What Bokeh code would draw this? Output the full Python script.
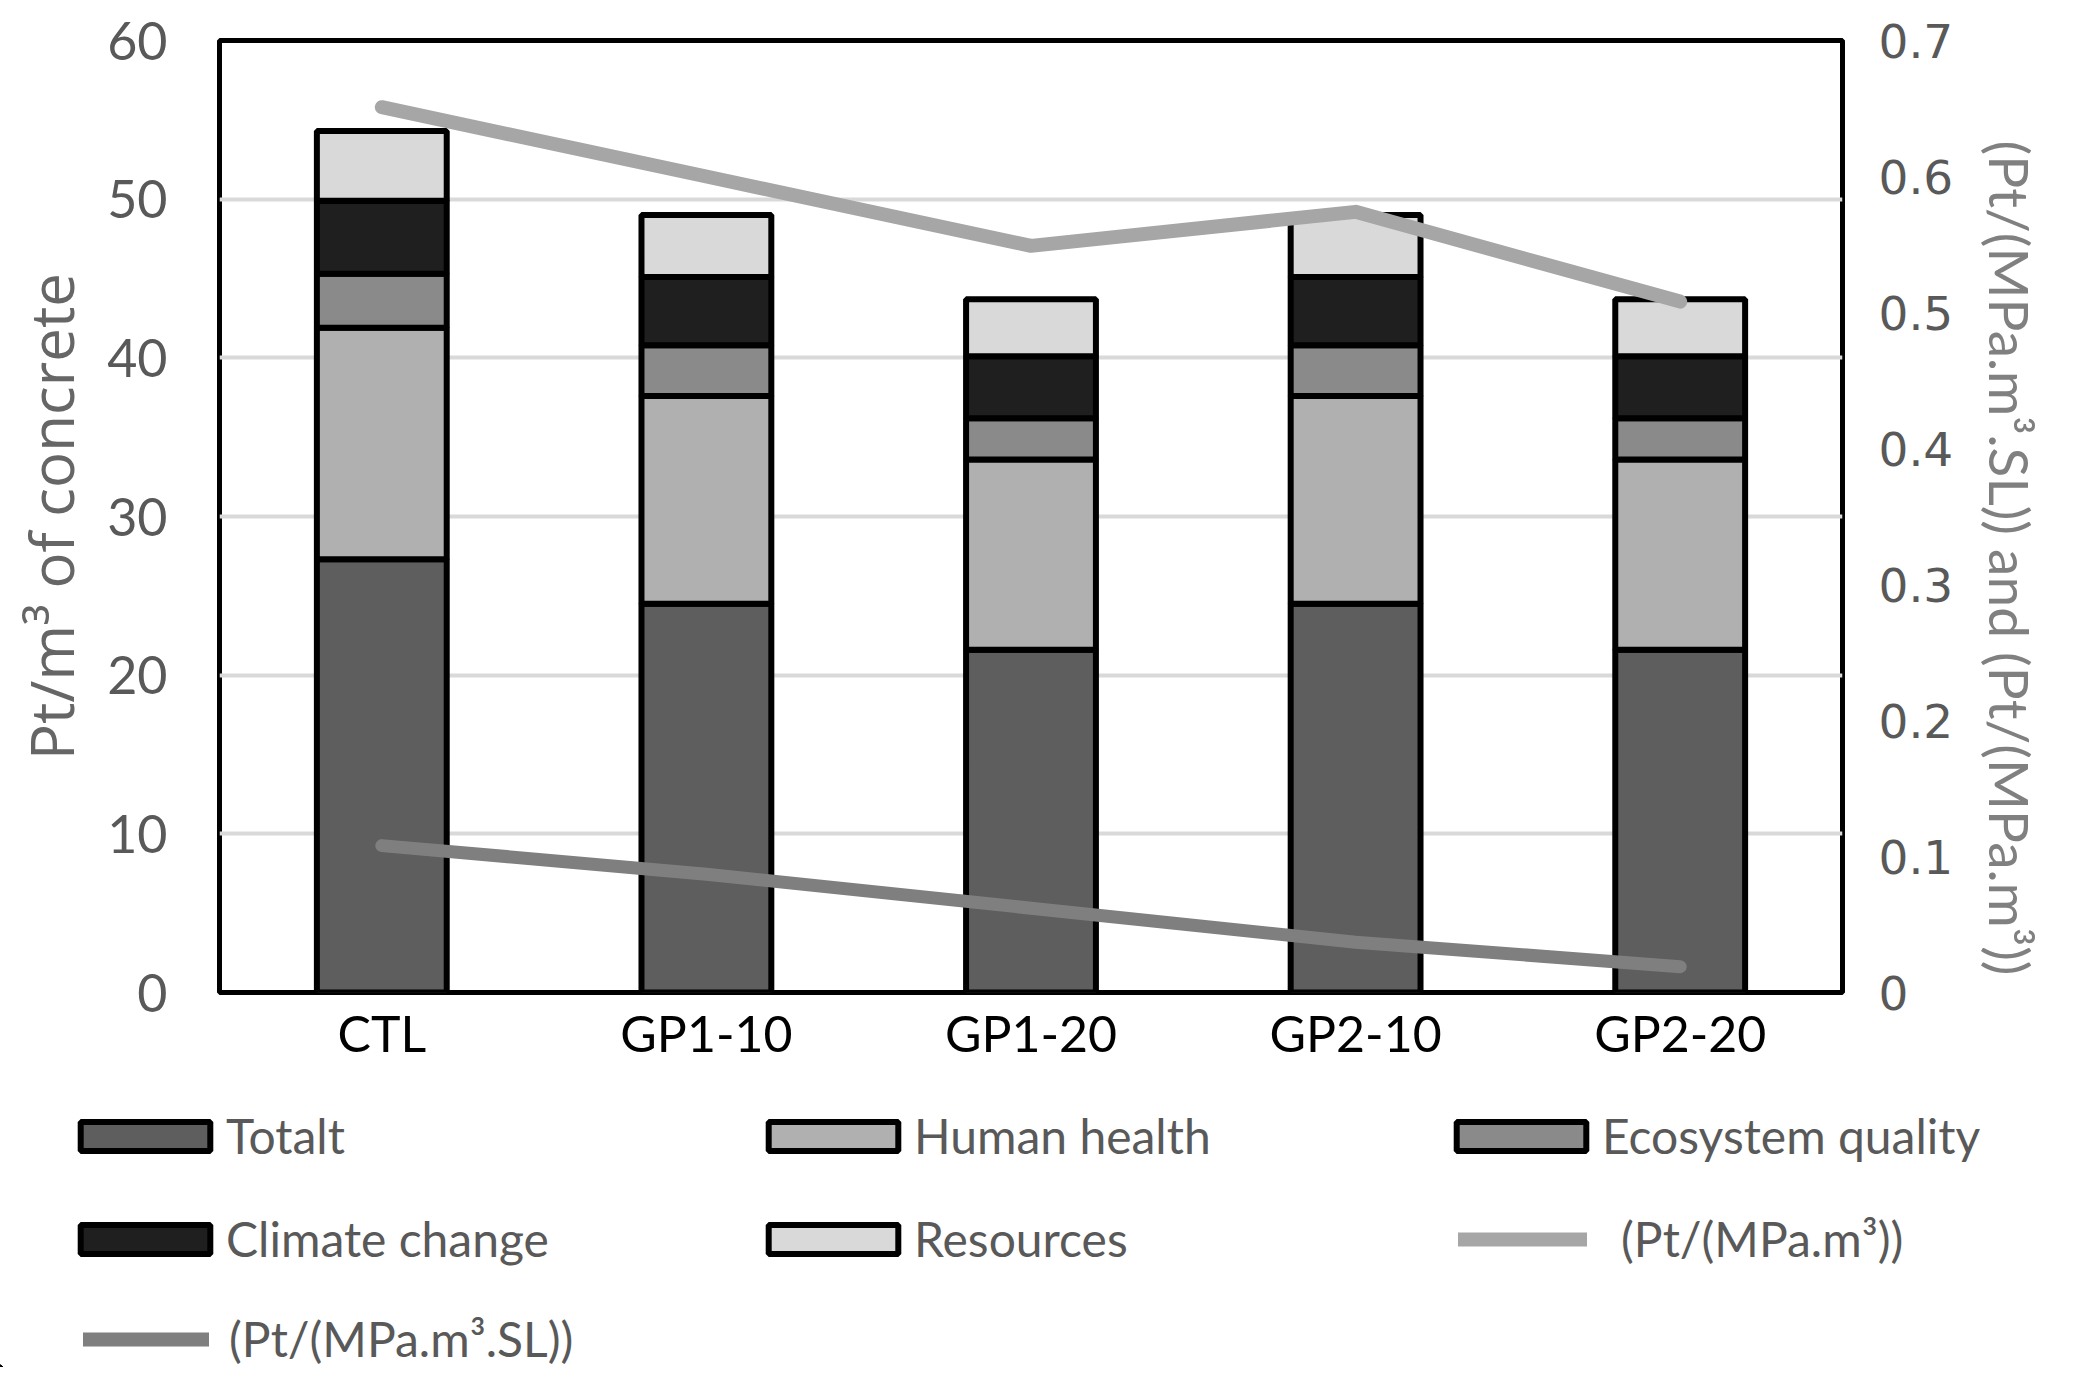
from bokeh.plotting import figure
from bokeh.models import (ColumnDataSource, FactorRange, Range1d, LinearAxis, FixedTicker,
                          CustomJSTickFormatter, Legend, LegendItem, Title)
from bokeh.embed import file_html
from bokeh.resources import INLINE

# ---------------- data ----------------
categories = ["CTL", "GP1-10", "GP1-20", "GP2-10", "GP2-20"]
totalt = [27.3, 24.5, 21.6, 24.5, 21.6]
human_health = [14.6, 13.1, 12.0, 13.1, 12.0]
ecosystem_quality = [3.4, 3.2, 2.6, 3.2, 2.6]
climate_change = [4.6, 4.3, 3.9, 4.3, 3.9]
resources = [4.4, 3.9, 3.6, 3.9, 3.6]
pt_mpa_m3 = [0.651, 0.600, 0.549, 0.574, 0.508]
pt_mpa_m3_sl = [0.108, 0.087, 0.062, 0.037, 0.019]

series_names = ["Totalt", "Human health", "Ecosystem quality", "Climate change", "Resources"]
line_names = ["(Pt/(MPa.m\u00b3))", "(Pt/(MPa.m\u00b3.SL))"]
left_ticks = [0, 10, 20, 30, 40, 50, 60]
right_ticks = [0, 0.1, 0.2, 0.3, 0.4, 0.5, 0.6, 0.7]
left_label = "Pt/m\u00b3 of concrete"
right_label = "(Pt/(MPa.m\u00b3.SL)) and (Pt/(MPa.m\u00b3))"

# ---------------- styles ----------------
bar_colors = ["#5e5e5e", "#b0b0b0", "#8a8a8a", "#1f1f1f", "#d9d9d9"]
line_colors = ["#a6a6a6", "#7f7f7f"]
keys = ["totalt", "human_health", "ecosystem_quality", "climate_change", "resources"]

source = ColumnDataSource(dict(cat=categories, totalt=totalt, human_health=human_health,
                               ecosystem_quality=ecosystem_quality,
                               climate_change=climate_change, resources=resources))

W = 2072
HP = 1070          # chart part
HQ = 1367 - HP     # legend part
FL, FT, FR, FB = 219, 40, 1842, 992   # frame edges

p = figure(width=W, height=HP, x_range=FactorRange(*categories), y_range=Range1d(0, 60),
           output_backend="svg", toolbar_location=None,
           min_border_left=FL, min_border_right=W - FR, min_border_top=FT,
           min_border_bottom=HP - FB)
p.extra_y_ranges = {"right": Range1d(0, 0.7)}
p.background_fill_color = "white"
p.border_fill_color = "white"
p.outline_line_color = "black"
p.outline_line_width = 5

bars = p.vbar_stack(keys, x="cat", width=0.4, source=source,
                    fill_color=bar_colors, line_color="black", line_width=6)

l1 = p.line(x=categories, y=pt_mpa_m3, y_range_name="right", line_color=line_colors[0],
            line_width=14, line_cap="round", line_join="round")
l2 = p.line(x=categories, y=pt_mpa_m3_sl, y_range_name="right", line_color=line_colors[1],
            line_width=13, line_cap="round", line_join="round")

# grid
p.xgrid.grid_line_color = None
p.ygrid.ticker = FixedTicker(ticks=left_ticks)
p.ygrid.grid_line_color = "#d9d9d9"
p.ygrid.grid_line_width = 4

# left axis
ya = p.yaxis[0]
ya.ticker = FixedTicker(ticks=left_ticks)
ya.axis_label = left_label
ya.axis_label_text_font = "Open Sans"
ya.axis_label_text_font_size = "60px"
ya.axis_label_text_font_style = "normal"
ya.axis_label_text_color = "#666666"
ya.axis_label_standoff = 12
ya.major_label_text_font = "Lato"
ya.major_label_text_font_size = "52px"
ya.major_label_text_color = "#595959"
ya.major_label_standoff = 46

# right axis (its title is a side-panel Title so it can sit lower, as in the original)
ra = LinearAxis(y_range_name="right", ticker=FixedTicker(ticks=right_ticks),
                formatter=CustomJSTickFormatter(code="return tick == 0 ? '0' : tick.toFixed(1);"))
ra.major_label_text_font = "DejaVu Sans"
ra.major_label_text_font_size = "47px"
ra.major_label_text_color = "#595959"
ra.major_label_standoff = 30
p.add_layout(ra, "right")

rt = Title(text=right_label, align="left", offset=100, standoff=40,
           text_font="Lato", text_font_size="55px", text_font_style="normal",
           text_color="#808080")
p.add_layout(rt, "right")

# x axis
xa = p.xaxis[0]
xa.major_label_text_font = "Lato"
xa.major_label_text_font_size = "50px"
xa.major_label_text_color = "black"
xa.major_label_standoff = 4

for ax in [ya, ra, xa]:
    ax.axis_line_color = None
    ax.major_tick_line_color = None
    ax.minor_tick_line_color = None

# ---------------- legend panel (separate figure under the chart) ----------------
q = figure(width=W, height=HQ, x_range=Range1d(0, 1), y_range=Range1d(0, 1),
           output_backend="svg", toolbar_location=None,
           x_axis_location=None, y_axis_location=None,
           min_border=0, min_border_left=0, min_border_right=0,
           min_border_top=0, min_border_bottom=0)
q.outline_line_color = None
q.grid.visible = False
q.background_fill_color = "white"
q.border_fill_color = "white"

# legend proxies: one invisible mark each (outside the visible range), styled like the chart's marks
proxy_bars = [q.vbar(x=[-5], top=[-5], bottom=[-6], width=0.4, fill_color=c,
                     line_color="black", line_width=6) for c in bar_colors]
proxy_l1 = q.line(x=[-6, -5], y=[-5, -5], line_color=line_colors[0], line_width=14,
                  line_cap="round")
proxy_l2 = q.line(x=[-6, -5], y=[-5, -5], line_color=line_colors[1], line_width=14,
                  line_cap="round")

def make_legend(items, x, y, glyph_width, label_standoff):
    lg = Legend(items=items, location=(x, y), orientation="horizontal",
                glyph_width=glyph_width, glyph_height=36, label_standoff=label_standoff,
                label_width=506, label_height=30, spacing=20, padding=0, margin=0,
                border_line_color=None, background_fill_alpha=0,
                label_text_font="Lato", label_text_font_size="48px",
                label_text_color="#595959")
    q.add_layout(lg)
    return lg

row1 = [LegendItem(label=series_names[i], renderers=[proxy_bars[i]]) for i in range(3)]
row2 = [LegendItem(label=series_names[3], renderers=[proxy_bars[3]]),
        LegendItem(label=series_names[4], renderers=[proxy_bars[4]])]
row2_line = [LegendItem(label=line_names[0], renderers=[proxy_l1])]
row3 = [LegendItem(label=line_names[1], renderers=[proxy_l2])]

make_legend(row1, 64, 203, 162, 0)
make_legend(row2, 64, 100, 162, 0)
make_legend(row2_line, 1458, 100, 129, 34)
make_legend(row3, 83, 0, 126, 20)

open("out.html", "w").write(file_html([p, q], INLINE))
